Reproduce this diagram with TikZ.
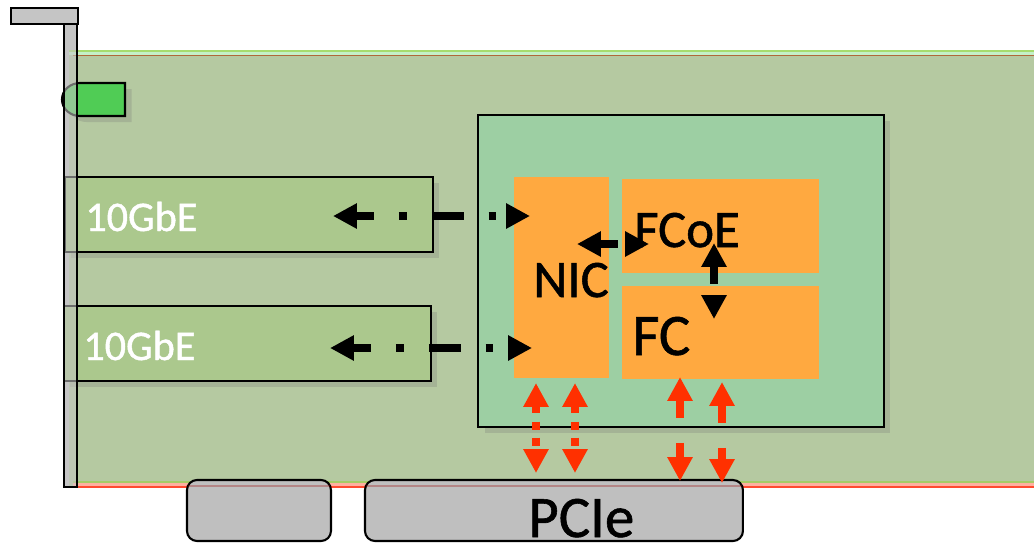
\documentclass[tikz,border=0pt]{standalone}
\usepackage{fontspec}
\setmainfont{Carlito}[FakeBold=1]
\usetikzlibrary{arrows.meta, shadows}
\definecolor{boardfill}{HTML}{B5C9A1}
\definecolor{boardtop}{HTML}{A6DC6E}
\definecolor{boardglow}{HTML}{C4F0C8}
\definecolor{boardedge}{HTML}{B0683A}
\definecolor{boardlow}{HTML}{A5CC66}
\definecolor{boardpink}{HTML}{FFB0A0}
\definecolor{boardred}{HTML}{FF4B30}
\definecolor{portfill}{HTML}{ABC88D}
\definecolor{chipfill}{HTML}{9DCFA3}
\definecolor{blockfill}{HTML}{FFA940}
\definecolor{ledfill}{HTML}{50CC55}
\definecolor{metalfill}{HTML}{BFBFBF}
\definecolor{linkred}{HTML}{FF3000}
\tikzset{
    softshadow/.style={drop shadow={shadow xshift=0.13cm,shadow yshift=-0.12cm,opacity=0.25,fill=black!55}},
    boxnode/.style={anchor=north west,inner sep=0pt,outer sep=0pt},
    portbox/.style={boxnode,draw=black,line width=1.2pt,fill=portfill,softshadow},
    chipbox/.style={boxnode,draw=black,line width=1.2pt,fill=chipfill,softshadow},
    blockbox/.style={boxnode,fill=blockfill},
    slotbox/.style={boxnode,draw=black,line width=1.2pt,fill=metalfill,rounded corners=0.2cm},
    porttext/.style={anchor=base west,inner sep=0pt,text=white,font=\fontsize{24}{25}\selectfont},
    blocktext/.style={anchor=base west,inner sep=0pt,text=black,font=\fontsize{30}{31}\selectfont},
    bigtext/.style={anchor=base west,inner sep=0pt,text=black,font=\fontsize{33.5}{34}\selectfont},
    datalink/.style={line width=4.5pt,{Triangle[length=13.6pt,width=13.6pt]}-{Triangle[length=13.6pt,width=13.6pt]},dash pattern=on 18.1pt off 14.2pt on 4.5pt off 14.2pt,dash phase=7.5pt},
    buslink/.style={draw=linkred,line width=4.5pt,{Triangle[length=13.6pt,width=13.6pt]}-{Triangle[length=13.6pt,width=13.6pt]},color=linkred},
    shortdash/.style={dash pattern=on 4.6pt off 4.6pt,dash phase=0pt},
    longdash/.style={dash pattern=on 18.1pt off 14.2pt,dash phase=7.5pt}
}
\begin{document}
\begin{tikzpicture}[x=0.02cm,y=-0.02cm]
    \useasboundingbox (0,0) rectangle (1034,542);
    \fill[metalfill!90!white] (64,24) rectangle (77,487);
    \fill[boardfill] (69,51) rectangle (1034,487);
    \fill[boardglow] (69,51) rectangle (1034,55);
    \draw[boardtop,line width=1pt] (69,51)--(1034,51);
    \draw[boardedge,line width=1.1pt] (73,55.5)--(1034,55.5);
    \draw[boardlow,line width=0.8pt] (73,482)--(1034,482);
    \fill[boardpink] (73,483) rectangle (1034,486);
    \draw[boardred,line width=1.3pt] (73,487)--(1034,487);

    \draw[line width=1.2pt,fill=ledfill,softshadow] (125,83)--(80,83) to[out=180,in=90] (62,99.5) to[out=-90,in=180] (80,116)--(125,116)--cycle;

    \node[portbox,minimum width=7.36cm,minimum height=1.5cm] (porta) at (65,177) {};
    \node[portbox,minimum width=7.34cm,minimum height=1.5cm] (portb) at (64,306) {};
    \node[porttext] (portalabel) at (85,231) {10GbE};
    \node[porttext] (portblabel) at (83,360) {10GbE};

    \draw[draw=black,line width=1.2pt,fill=metalfill!90!white,fill opacity=0.55] (64,24) rectangle (77,487);
    \draw[draw=black,line width=1.2pt,fill=metalfill!90!white] (11,8) rectangle (78,24);

    \node[chipbox,minimum width=8.12cm,minimum height=6.24cm] (chip) at (478,115) {};
    \node[blockbox,minimum width=1.9cm,minimum height=4.02cm] (nic) at (514,177) {};
    \node[blockbox,minimum width=3.94cm,minimum height=1.88cm] (fcoe) at (622,179) {};
    \node[blockbox,minimum width=3.94cm,minimum height=1.86cm] (fc) at (622,286) {};
    \node[blocktext] (niclabel) at (533,297) {NIC};
    \node[blocktext] (fcoelabel) at (634,247) {FCoE};
    \node[bigtext] (fclabel) at (632,355) {FC};

    \node[slotbox,minimum width=2.88cm,minimum height=1.22cm] (slota) at (187,480) {};
    \node[slotbox,minimum width=7.56cm,minimum height=1.22cm] (slotb) at (365,480) {};
    \node[bigtext] (pcielabel) at (528,537) {PCIe};
    \draw[red!60!black,opacity=0.3,line width=1.6pt] (188,486)--(330,486) (366,486)--(742,486);

    \coordinate (porttipa) at (333,216);
    \coordinate (nictipa) at (530,216);
    \coordinate (porttipb) at (330,348);
    \coordinate (nictipb) at (532,348);
    \coordinate (nictipc) at (577,244);
    \coordinate (fcoetip) at (649,244);
    \coordinate (fcoetipb) at (714,243);
    \coordinate (fctip) at (714,319);
    \draw[datalink] (porttipa)--(nictipa);
    \draw[datalink] (porttipb)--(nictipb);
    \draw[datalink] (nictipc)--(fcoetip);
    \draw[datalink] (fcoetipb)--(fctip);

    \coordinate (nicbusa) at (536,383);
    \coordinate (slotbusa) at (536,473);
    \coordinate (nicbusb) at (575,383);
    \coordinate (slotbusb) at (575,473);
    \coordinate (fcbusa) at (680,377);
    \coordinate (slotbusc) at (680,481);
    \coordinate (fcbusb) at (722,382);
    \coordinate (slotbusd) at (722,483);
    \draw[buslink,shortdash] (nicbusa)--(slotbusa);
    \draw[buslink,shortdash] (nicbusb)--(slotbusb);
    \draw[buslink,longdash] (fcbusa)--(slotbusc);
    \draw[buslink,longdash] (fcbusb)--(slotbusd);
\end{tikzpicture}
\end{document}
